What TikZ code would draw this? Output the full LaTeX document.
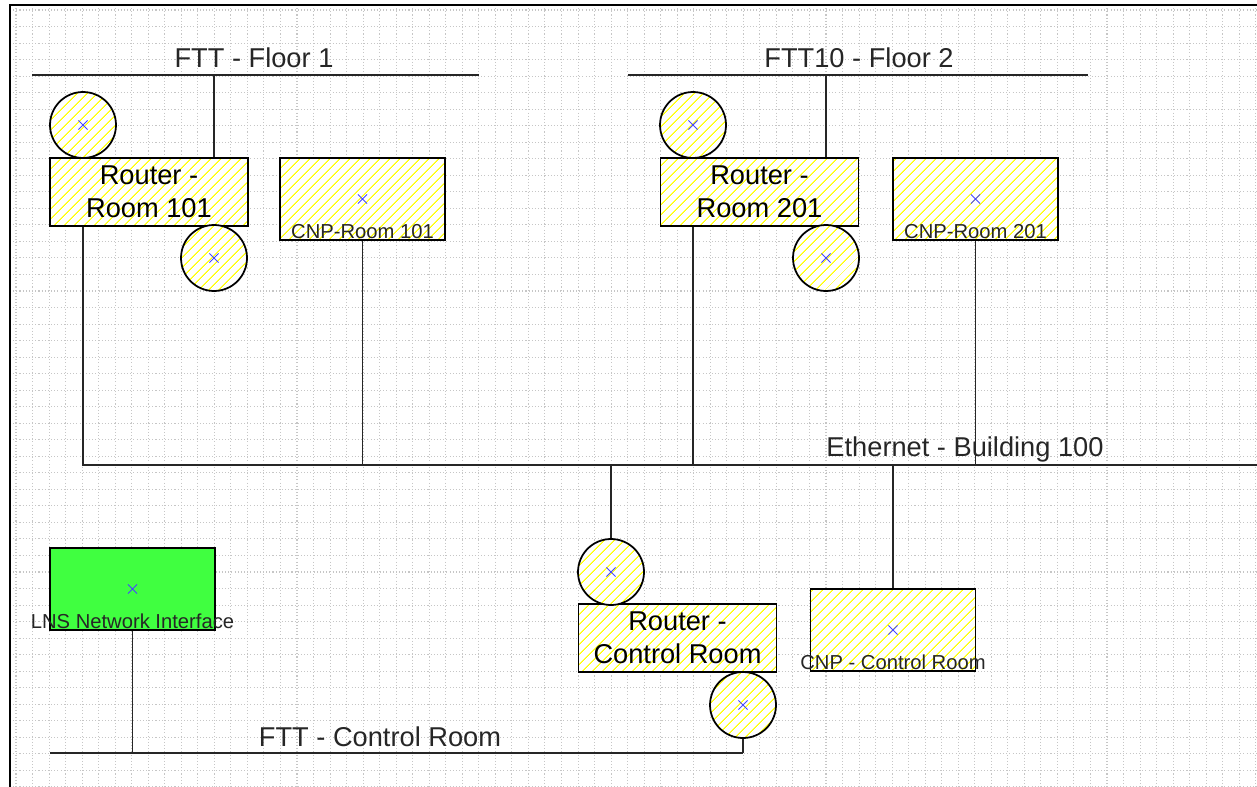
\documentclass[tikz,border=0pt]{standalone}
\usepackage{fontspec}
\setmainfont{Liberation Sans}
\usetikzlibrary{patterns.meta, calc}

\definecolor{lnsgreen}{RGB}{64,255,64}
\definecolor{xblue}{RGB}{70,70,255}
\newcommand{\busfont}{\fontsize{15.5}{18.5}\selectfont}
\newcommand{\tagfont}{\fontsize{11.5}{13.5}\selectfont}

\begin{document}
\begin{tikzpicture}[
  x=0.02cm, y=-0.02cm,
  gridline/.style={gray!45, line width=0.6pt, dash pattern=on 0.6pt off 1.2pt},
  frame/.style={black, line width=1.3pt},
  hatch/.style={draw=black, line width=1pt, preaction={fill=white},
                pattern={Lines[angle=45, distance=4pt, line width=0.6pt]}, pattern color=yellow},
  xmark/.style={path picture={
      \draw[xblue, line width=0.5pt]
        ($(path picture bounding box.center)+(-2.6pt,-2.6pt)$) -- ++(5.2pt,5.2pt)
        ($(path picture bounding box.center)+(-2.6pt,2.6pt)$) -- ++(5.2pt,-5.2pt);}},
  router/.style={hatch, rectangle, minimum width=3.96cm, minimum height=1.36cm,
                 inner sep=0pt, align=center, font=\busfont},
  cnp/.style={hatch, xmark, rectangle, minimum width=3.3cm, minimum height=1.64cm, inner sep=0pt},
  svc/.style={hatch, xmark, circle, minimum size=1.32cm, inner sep=0pt},
  lnsbox/.style={draw=black, line width=1pt, fill=lnsgreen, xmark, rectangle,
                 minimum width=3.3cm, minimum height=1.64cm, inner sep=0pt},
  bus/.style={black!85, line width=1.1pt},
  link/.style={black!85, line width=1.1pt},
  buslabel/.style={font=\busfont, anchor=base, inner sep=0pt, text=black!85},
  devlabel/.style={font=\tagfont, anchor=base, inner sep=0pt, text=black!85}
]
\useasboundingbox (0,0) rectangle (1257,787);

% Background grid
\foreach \gx in {0,...,75}
  \draw[gridline] ({16+16.53*\gx},5) -- ({16+16.53*\gx},787);
\foreach \gy in {0,...,47}
  \draw[gridline] (10,{10+16.53*\gy}) -- (1257,{10+16.53*\gy});
\draw[frame] (10,787) -- (10,5) -- (1257,5);

% Bus end points
\coordinate (f1w) at (32,75);
\coordinate (f1e) at (479,75);
\coordinate (f2w) at (628,75);
\coordinate (f2e) at (1088,75);
\coordinate (ethw) at (82,465);
\coordinate (ethe) at (1257,465);
\coordinate (ctlw) at (50,753);
\coordinate (ctle) at (743,753);

% Floor 1
\node[router] (r101) at (149,192) {Router -\\Room 101};
\node[svc] (s101a) at (83,125) {};
\node[svc] (s101b) at (214,258) {};
\node[cnp] (c101) at (362.5,199) {};
\node[devlabel] (l101) at ([yshift=1.3pt]c101.south) {CNP-Room 101};

% Floor 2
\node[router] (r201) at (759.5,192) {Router -\\Room 201};
\node[svc] (s201a) at (693,125) {};
\node[svc] (s201b) at (826,258) {};
\node[cnp] (c201) at (975.5,199) {};
\node[devlabel] (l201) at ([yshift=1.3pt]c201.south) {CNP-Room 201};

% Control room
\node[router] (rctl) at (677.5,638) {Router -\\Control Room};
\node[svc] (sctla) at (611,572) {};
\node[svc] (sctlb) at (743,705) {};
\node[cnp] (cctl) at (893,630) {};
\node[devlabel] (lctl) at ([yshift=1.3pt]cctl.south) {CNP - Control Room};
\node[lnsbox] (lns) at (132.5,589) {};
\node[devlabel] (llns) at ([yshift=1.3pt]lns.south) {LNS Network Interface};

% Channels
\draw[bus] (f1w) -- (f1e);
\node[buslabel] (bf1) at (254,67.5) {FTT - Floor 1};
\draw[link] (s101b |- f1w) -- (s101b |- r101.north);

\draw[bus] (f2w) -- (f2e);
\node[buslabel] (bf2) at (859,67.5) {FTT10 - Floor 2};
\draw[link] (s201b |- f2w) -- (s201b |- r201.north);

\draw[bus] (ethw) -- (ethe);
\node[buslabel] (beth) at (965,456) {Ethernet - Building 100};
\draw[link] (s101a |- r101.south) -- (s101a |- ethw);
\draw[link] (c101.south) -- (c101 |- ethw);
\draw[link] (s201a |- r201.south) -- (s201a |- ethw);
\draw[link] (c201.south) -- (c201 |- ethw);
\draw[link] (sctla.north) -- (sctla |- ethw);
\draw[link] (cctl.north) -- (cctl |- ethw);

\draw[bus] (ctlw) -- (ctle);
\node[buslabel] (bctl) at (380,746) {FTT - Control Room};
\draw[link] (lns.south) -- (lns |- ctlw);
\draw[link] (sctlb.south) -- (sctlb |- ctlw);

\end{tikzpicture}
\end{document}
